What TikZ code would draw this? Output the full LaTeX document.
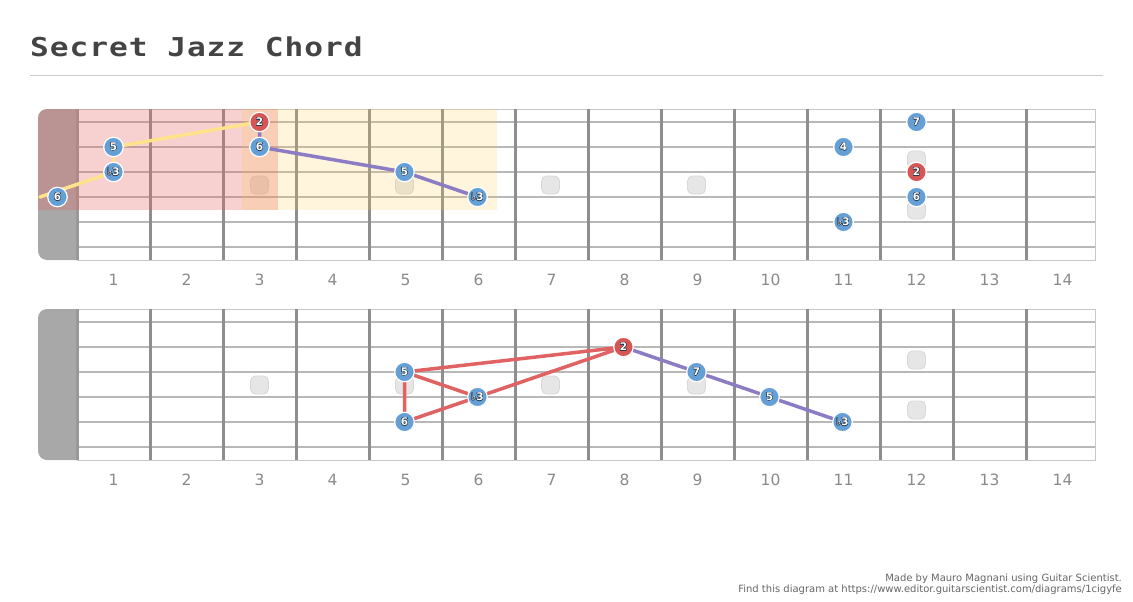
\documentclass[tikz,border=0pt]{standalone}
\usepackage{fontspec}
\usepackage{contour}
\setmainfont{DejaVu Sans}
\newfontfamily\titlefont[LetterSpace=3]{DejaVu Sans Mono}
\contourlength{0.4pt}
\definecolor{nutgray}{HTML}{A8A8A8}
\definecolor{nutline}{HTML}{999999}
\definecolor{stringgray}{HTML}{B8B8B8}
\definecolor{fretgray}{HTML}{8E8E8E}
\definecolor{boardedge}{HTML}{C8C8C8}
\definecolor{noteblue}{HTML}{649FD6}
\definecolor{notered}{HTML}{D65656}
\definecolor{linepurple}{HTML}{8C7CC4}
\definecolor{linered}{HTML}{E06262}
\definecolor{lineyellow}{HTML}{FFE28C}
\definecolor{hlpink}{HTML}{E66464}
\definecolor{hlyellow}{HTML}{FFC850}
\definecolor{inlayfill}{HTML}{E6E6E6}
\definecolor{inlayedge}{HTML}{D8D8D8}
\definecolor{titlegray}{HTML}{444444}
\definecolor{rulegray}{HTML}{CCCCCC}
\definecolor{numgray}{HTML}{8A8A8A}
\definecolor{footgray}{HTML}{666666}
\definecolor{labeledge}{HTML}{2A3A4A}
\pgfdeclarelayer{board}
\pgfdeclarelayer{conn}
\pgfsetlayers{board,conn,main}
\tikzset{
  note/.style={circle, minimum size=19.5pt, inner sep=0pt, draw=white, line width=1.2pt,
    text=white, font=\fontsize{10.5}{10.5}\selectfont\bfseries},
  inlaybox/.style={fill=inlayfill, draw=inlayedge, line width=0.8pt, rounded corners=5pt,
    minimum size=18pt, inner sep=0pt},
  fretnum/.style={text=numgray, font=\fontsize{15.5}{15.5}\selectfont, inner sep=0pt},
  stringline/.style={stringgray, line width=2pt},
  fretline/.style={fretgray, line width=3pt},
  connP/.style={linepurple, line width=3.5pt, line cap=round, line join=round},
  connR/.style={linered, line width=3.5pt, line cap=round, line join=round},
  connY/.style={lineyellow, line width=3.5pt, line cap=round, line join=round},
}
\newcommand\drawboard[1]{%
  \fill[nutgray, rounded corners=9pt] (38,#1) rectangle (92,#1+151);
  \filldraw[fill=white, draw=boardedge, line width=1pt] (77,#1) rectangle (1095,#1+151);
  \foreach \s in {0,...,5} \draw[stringline] (77,#1+13+25*\s) -- (1094.5,#1+13+25*\s);
  \foreach \k in {1,...,13} \draw[fretline] (77+73*\k,#1) -- (77+73*\k,#1+151);
  \draw[nutline, line width=3pt] (77,#1) -- (77,#1+151);
}
\newcommand\inlay[3]{\node[inlaybox] (#1) at (#2,#3) {};}
\newcommand\nt[5]{\node[note, fill=#4] (#1) at (#2,#3) {\contour{labeledge}{#5}};}
\begin{document}
\begin{tikzpicture}[x=1pt, y=-1pt]
\useasboundingbox (0,0) rectangle (1133,602);
% title
\node[anchor=base west, inner sep=0pt, text=titlegray,
  font=\titlefont\fontsize{26}{26}\selectfont\bfseries] (title) at (30,57)
  {\scalebox{1.2}[1]{Secret Jazz Chord}};
\draw[rulegray, line width=1.5pt] (30,75.5) -- (1103,75.5);
\begin{pgfonlayer}{board}
\fill[white] (0,0) rectangle (1133,602);
% top board
\drawboard{109}
\inlay{ti3}{259.5}{185}
\inlay{ti5}{404.5}{185}
\inlay{ti7}{550.5}{185}
\inlay{ti9}{696.5}{185}
\inlay{ti12a}{916.5}{160}
\inlay{ti12b}{916.5}{210}
\begin{scope}
  \clip[rounded corners=9pt] (38,109) rectangle (1200,260);
  \fill[hlpink, opacity=0.3] (38,109) rectangle (278,209.5);
  \fill[hlyellow, opacity=0.2] (242,109) rectangle (497,209.5);
\end{scope}
% bottom board
\drawboard{309}
\inlay{bi3}{259.5}{385}
\inlay{bi5}{404.5}{385}
\inlay{bi7}{550.5}{385}
\inlay{bi9}{696.5}{385}
\inlay{bi12a}{916.5}{360}
\inlay{bi12b}{916.5}{410}
\end{pgfonlayer}
% fret numbers
\foreach \k in {1,...,14} {
  \node[fretnum] (tn\k) at (40.5+73*\k,280) {\k};
  \node[fretnum] (bn\k) at (40.5+73*\k,480) {\k};
}
% top notes
\nt{t6a}{57.5}{197}{noteblue}{6}
\nt{tb3a}{113.5}{172}{noteblue}{♭3}
\nt{t5a}{113.5}{147}{noteblue}{5}
\nt{t2a}{259.5}{122}{notered}{2}
\nt{t6b}{259.5}{147}{noteblue}{6}
\nt{t5b}{404.5}{172}{noteblue}{5}
\nt{tb3b}{477.5}{197}{noteblue}{♭3}
\nt{t7}{916.5}{122}{noteblue}{7}
\nt{t4}{843.5}{147}{noteblue}{4}
\nt{t2b}{916.5}{172}{notered}{2}
\nt{t6c}{916.5}{197}{noteblue}{6}
\nt{tb3c}{843.5}{222}{noteblue}{♭3}
% bottom notes
\nt{b5a}{404.5}{372}{noteblue}{5}
\nt{b6}{404.5}{422}{noteblue}{6}
\nt{bb3a}{477.5}{397}{noteblue}{♭3}
\nt{b2}{623.5}{347}{notered}{2}
\nt{b7}{696.5}{372}{noteblue}{7}
\nt{b5b}{769.5}{397}{noteblue}{5}
\nt{bb3b}{842.5}{422}{noteblue}{♭3}
\coordinate (ystart) at (40,197);
\begin{pgfonlayer}{conn}
\draw[connY] (ystart) -- (tb3a.center) -- (t5a.center) -- (t2a.center);
\draw[connP] (t2a.center) -- (t6b.center) -- (t5b.center) -- (tb3b.center);
\draw[connR] (b6.center) -- (bb3a.center) -- (b2.center) -- (b5a.center) -- (b6.center);
\draw[connR] (b5a.center) -- (bb3a.center);
\draw[connP] (b2.center) -- (b7.center) -- (b5b.center) -- (bb3b.center);
\end{pgfonlayer}
% footer
\node[anchor=base east, inner sep=0pt, text=footgray, font=\fontsize{10}{10}\selectfont] (foot1) at (1122,581) {Made by Mauro Magnani using Guitar Scientist.};
\node[anchor=base east, inner sep=0pt, text=footgray, font=\fontsize{10}{10}\selectfont] (foot2) at (1122,592) {Find this diagram at https://www.editor.guitarscientist.com/diagrams/1cigyfe};
\end{tikzpicture}
\end{document}
